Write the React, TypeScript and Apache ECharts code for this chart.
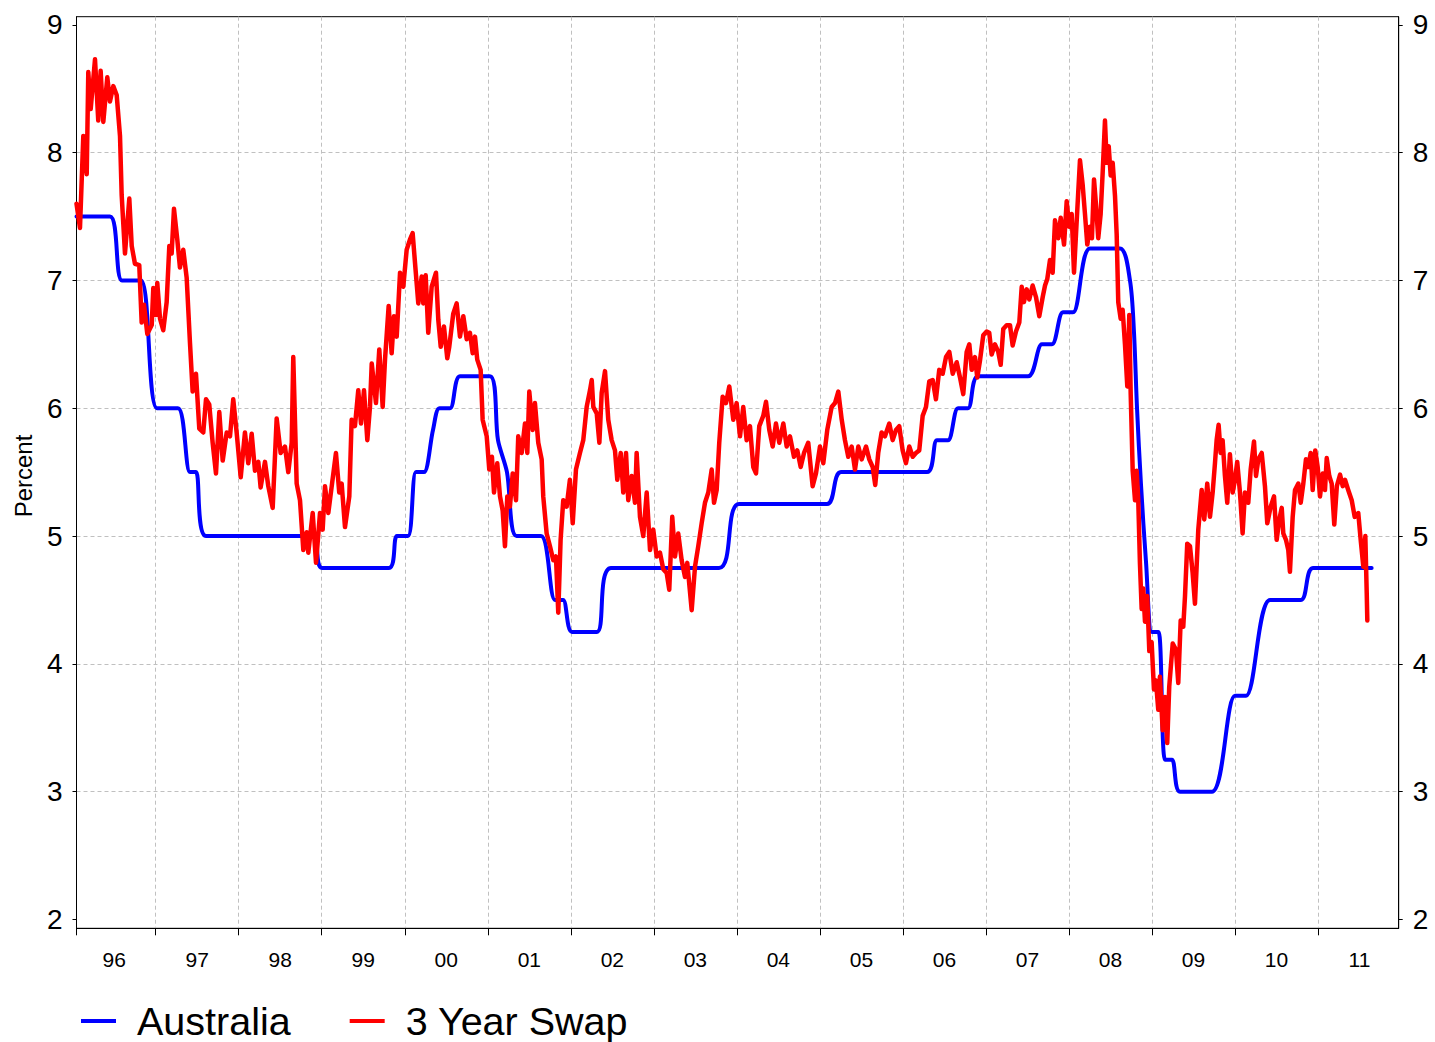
import React, { useEffect, useRef } from "react";
import * as echarts from "echarts";

const FONT = '"Liberation Sans", Arial, Helvetica, sans-serif';

// Tick positions
const yearStarts = [1997, 1998, 1999, 2000, 2001, 2002, 2003, 2004, 2005, 2006, 2007, 2008, 2009, 2010, 2011];
const yearLabelYears = [1996, 1997, 1998, 1999, 2000, 2001, 2002, 2003, 2004, 2005, 2006, 2007, 2008, 2009, 2010, 2011];
const percentTicks = [2, 3, 4, 5, 6, 7, 8, 9];
const percentGridLines = [3, 4, 5, 6, 7, 8];
const xStart = 1996.046;
const xEnd = 2011.972;
const yMin = 1.931;
const yMax = 9.063;

// Australia cash rate (percent), [year, value]
const cashRate: [number, number][] = [
  [1996.046, 7.5], [1996.449, 7.5], [1996.594, 7.0], [1996.823, 7.0], [1997.015, 6.0],
  [1997.268, 6.0], [1997.413, 5.5], [1997.485, 5.5], [1997.606, 5.0], [1998.882, 5.0],
  [1999.003, 4.75], [1999.81, 4.75], [1999.906, 5.0], [2000.039, 5.0], [2000.135, 5.5],
  [2000.231, 5.5], [2000.34, 5.83], [2000.418, 6.0], [2000.545, 6.0], [2000.665, 6.25],
  [2001.026, 6.25], [2001.123, 5.75], [2001.231, 5.5], [2001.346, 5.0], [2001.641, 5.0],
  [2001.809, 4.5], [2001.906, 4.5], [2002.014, 4.25], [2002.315, 4.25], [2002.484, 4.75],
  [2003.785, 4.75], [2004.026, 5.25], [2005.086, 5.25], [2005.254, 5.5], [2006.29, 5.5],
  [2006.411, 5.75], [2006.543, 5.75], [2006.664, 6.0], [2006.784, 6.0], [2006.905, 6.25],
  [2007.507, 6.25], [2007.675, 6.5], [2007.796, 6.5], [2007.928, 6.75], [2008.049, 6.75],
  [2008.253, 7.25], [2008.615, 7.25], [2008.735, 7.0], [2008.783, 6.6], [2008.82, 6.0],
  [2008.868, 5.4], [2008.928, 4.8], [2009.0, 4.25], [2009.079, 4.25], [2009.157, 3.25],
  [2009.241, 3.25], [2009.337, 3.0], [2009.723, 3.0], [2010.0, 3.75], [2010.133, 3.75],
  [2010.422, 4.5], [2010.795, 4.5], [2010.939, 4.75], [2011.646, 4.75],
];

// 3 year swap rate (percent), [year, value]
const swapRate: [number, number][] = [
  [1996.046, 7.6], [1996.088, 7.41], [1996.128, 8.13], [1996.169, 7.83], [1996.188, 8.63],
  [1996.217, 8.34], [1996.269, 8.73], [1996.308, 8.25], [1996.337, 8.64], [1996.369, 8.24],
  [1996.417, 8.59], [1996.449, 8.4], [1996.489, 8.52], [1996.53, 8.45], [1996.57, 8.13],
  [1996.59, 7.67], [1996.63, 7.21], [1996.682, 7.64], [1996.711, 7.27], [1996.75, 7.13],
  [1996.802, 7.12], [1996.831, 6.67], [1996.859, 6.81], [1996.899, 6.58], [1996.952, 6.65],
  [1996.971, 6.94], [1997.003, 6.73], [1997.019, 6.98], [1997.052, 6.7], [1997.091, 6.61],
  [1997.132, 6.83], [1997.164, 7.27], [1997.192, 7.21], [1997.22, 7.56], [1997.26, 7.32],
  [1997.292, 7.1], [1997.332, 7.24], [1997.373, 7.02], [1997.413, 6.51], [1997.445, 6.13],
  [1997.485, 6.27], [1997.525, 5.84], [1997.573, 5.81], [1997.606, 6.07], [1997.645, 6.03],
  [1997.686, 5.73], [1997.726, 5.49], [1997.766, 5.97], [1997.807, 5.59], [1997.855, 5.81],
  [1997.895, 5.78], [1997.934, 6.07], [1997.975, 5.81], [1998.024, 5.46], [1998.075, 5.81],
  [1998.115, 5.57], [1998.156, 5.8], [1998.196, 5.51], [1998.236, 5.58], [1998.264, 5.38],
  [1998.316, 5.58], [1998.356, 5.39], [1998.409, 5.22], [1998.457, 5.92], [1998.505, 5.65],
  [1998.557, 5.7], [1998.597, 5.5], [1998.638, 5.73], [1998.657, 6.4], [1998.698, 5.41],
  [1998.738, 5.28], [1998.778, 4.89], [1998.819, 5.03], [1998.838, 4.87], [1998.891, 5.18],
  [1998.931, 4.79], [1998.979, 5.18], [1999.011, 5.05], [1999.039, 5.39], [1999.079, 5.18],
  [1999.12, 5.39], [1999.171, 5.65], [1999.211, 5.34], [1999.24, 5.41], [1999.28, 5.07],
  [1999.332, 5.31], [1999.36, 5.91], [1999.4, 5.86], [1999.44, 6.14], [1999.473, 5.88],
  [1999.509, 6.14], [1999.549, 5.75], [1999.581, 6.01], [1999.602, 6.35], [1999.653, 6.04],
  [1999.693, 6.46], [1999.734, 6.01], [1999.762, 6.38], [1999.806, 6.8], [1999.842, 6.43],
  [1999.87, 6.72], [1999.903, 6.56], [1999.943, 7.06], [1999.982, 6.95], [2000.023, 7.24],
  [2000.063, 7.32], [2000.095, 7.37], [2000.123, 7.14], [2000.163, 6.82], [2000.204, 7.03],
  [2000.223, 6.82], [2000.252, 7.04], [2000.283, 6.59], [2000.324, 6.95], [2000.376, 7.06],
  [2000.404, 6.69], [2000.433, 6.48], [2000.472, 6.64], [2000.512, 6.39], [2000.536, 6.48],
  [2000.584, 6.74], [2000.625, 6.82], [2000.665, 6.56], [2000.705, 6.72], [2000.746, 6.54],
  [2000.785, 6.59], [2000.818, 6.43], [2000.846, 6.56], [2000.873, 6.38], [2000.914, 6.3],
  [2000.938, 5.91], [2000.987, 5.78], [2001.018, 5.52], [2001.05, 5.62], [2001.075, 5.34],
  [2001.114, 5.57], [2001.147, 5.31], [2001.179, 5.2], [2001.207, 4.92], [2001.235, 5.31],
  [2001.267, 5.23], [2001.3, 5.49], [2001.34, 5.28], [2001.367, 5.78], [2001.408, 5.65],
  [2001.448, 5.88], [2001.476, 5.65], [2001.5, 6.13], [2001.541, 5.83], [2001.568, 6.04],
  [2001.608, 5.73], [2001.649, 5.6], [2001.668, 5.31], [2001.709, 5.02], [2001.749, 4.92],
  [2001.789, 4.81], [2001.821, 4.84], [2001.849, 4.4], [2001.877, 4.97], [2001.909, 5.28],
  [2001.95, 5.23], [2001.989, 5.44], [2002.023, 5.1], [2002.062, 5.52], [2002.11, 5.65],
  [2002.15, 5.75], [2002.191, 6.01], [2002.231, 6.14], [2002.252, 6.22], [2002.271, 6.01],
  [2002.312, 5.96], [2002.344, 5.73], [2002.372, 6.12], [2002.412, 6.29], [2002.451, 5.91],
  [2002.492, 5.75], [2002.532, 5.67], [2002.56, 5.44], [2002.601, 5.65], [2002.632, 5.34],
  [2002.665, 5.65], [2002.692, 5.28], [2002.733, 5.47], [2002.773, 5.26], [2002.793, 5.65],
  [2002.833, 5.15], [2002.873, 5.0], [2002.914, 5.34], [2002.954, 4.89], [2002.993, 5.05],
  [2003.034, 4.84], [2003.074, 4.87], [2003.114, 4.74], [2003.155, 4.71], [2003.186, 4.58],
  [2003.222, 5.15], [2003.255, 4.84], [2003.294, 5.02], [2003.335, 4.81], [2003.375, 4.68],
  [2003.403, 4.79], [2003.456, 4.42], [2003.496, 4.76], [2003.535, 4.92], [2003.576, 5.1],
  [2003.616, 5.26], [2003.656, 5.34], [2003.697, 5.52], [2003.725, 5.26], [2003.757, 5.36],
  [2003.788, 5.73], [2003.829, 6.09], [2003.869, 6.04], [2003.909, 6.17], [2003.957, 5.91],
  [2003.997, 6.04], [2004.038, 5.78], [2004.077, 6.01], [2004.118, 5.75], [2004.158, 5.86],
  [2004.198, 5.54], [2004.231, 5.49], [2004.27, 5.86], [2004.318, 5.94], [2004.351, 6.05],
  [2004.391, 5.83], [2004.432, 5.7], [2004.471, 5.88], [2004.511, 5.73], [2004.56, 5.88],
  [2004.6, 5.7], [2004.64, 5.78], [2004.688, 5.62], [2004.728, 5.67], [2004.769, 5.54],
  [2004.809, 5.65], [2004.86, 5.73], [2004.913, 5.39], [2004.953, 5.49], [2005.001, 5.7],
  [2005.041, 5.57], [2005.089, 5.83], [2005.142, 6.01], [2005.182, 6.04], [2005.222, 6.13],
  [2005.263, 5.91], [2005.302, 5.75], [2005.342, 5.62], [2005.383, 5.7], [2005.423, 5.52],
  [2005.463, 5.7], [2005.504, 5.6], [2005.556, 5.7], [2005.595, 5.6], [2005.636, 5.54],
  [2005.667, 5.4], [2005.703, 5.65], [2005.744, 5.81], [2005.784, 5.78], [2005.836, 5.88],
  [2005.877, 5.75], [2005.917, 5.83], [2005.956, 5.86], [2005.997, 5.67], [2006.037, 5.57],
  [2006.077, 5.7], [2006.118, 5.62], [2006.157, 5.65], [2006.197, 5.67], [2006.238, 5.94],
  [2006.278, 6.01], [2006.318, 6.21], [2006.359, 6.22], [2006.398, 6.07], [2006.438, 6.3],
  [2006.479, 6.27], [2006.519, 6.4], [2006.559, 6.44], [2006.6, 6.27], [2006.648, 6.36],
  [2006.688, 6.24], [2006.727, 6.11], [2006.768, 6.44], [2006.8, 6.5], [2006.829, 6.3],
  [2006.868, 6.4], [2006.896, 6.24], [2006.928, 6.37], [2006.968, 6.57], [2007.009, 6.6],
  [2007.04, 6.59], [2007.069, 6.42], [2007.109, 6.5], [2007.149, 6.44], [2007.178, 6.34],
  [2007.209, 6.62], [2007.25, 6.65], [2007.29, 6.65], [2007.322, 6.49], [2007.362, 6.6],
  [2007.402, 6.67], [2007.431, 6.95], [2007.458, 6.83], [2007.491, 6.93], [2007.522, 6.85],
  [2007.563, 6.96], [2007.603, 6.87], [2007.643, 6.72], [2007.684, 6.87], [2007.712, 6.96],
  [2007.739, 7.01], [2007.772, 7.16], [2007.804, 7.06], [2007.832, 7.47], [2007.872, 7.33],
  [2007.901, 7.49], [2007.941, 7.28], [2007.973, 7.62], [2008.004, 7.42], [2008.033, 7.52],
  [2008.061, 7.06], [2008.085, 7.36], [2008.112, 7.69], [2008.133, 7.94], [2008.165, 7.75],
  [2008.193, 7.52], [2008.221, 7.28], [2008.253, 7.42], [2008.277, 7.33], [2008.302, 7.79],
  [2008.326, 7.59], [2008.353, 7.33], [2008.382, 7.52], [2008.406, 7.84], [2008.434, 8.25],
  [2008.455, 7.92], [2008.479, 8.05], [2008.503, 7.82], [2008.527, 7.92], [2008.555, 7.66],
  [2008.575, 7.36], [2008.594, 6.83], [2008.623, 6.7], [2008.647, 6.77], [2008.675, 6.5],
  [2008.703, 6.17], [2008.727, 6.73], [2008.744, 6.11], [2008.768, 5.51], [2008.796, 5.28],
  [2008.816, 5.51], [2008.835, 5.28], [2008.855, 4.79], [2008.876, 4.43], [2008.895, 4.59],
  [2008.916, 4.33], [2008.943, 4.53], [2008.968, 4.1], [2008.996, 4.17], [2009.024, 3.8],
  [2009.048, 3.87], [2009.076, 3.64], [2009.096, 3.9], [2009.129, 3.48], [2009.156, 3.74],
  [2009.184, 3.38], [2009.208, 3.82], [2009.25, 4.16], [2009.289, 4.11], [2009.317, 3.85],
  [2009.346, 4.34], [2009.377, 4.29], [2009.398, 4.53], [2009.425, 4.94], [2009.458, 4.92],
  [2009.49, 4.71], [2009.518, 4.47], [2009.558, 5.05], [2009.599, 5.36], [2009.63, 5.13],
  [2009.666, 5.41], [2009.699, 5.15], [2009.731, 5.34], [2009.759, 5.57], [2009.779, 5.75],
  [2009.803, 5.87], [2009.827, 5.65], [2009.851, 5.75], [2009.879, 5.47], [2009.907, 5.26],
  [2009.939, 5.64], [2009.972, 5.34], [2010.0, 5.44], [2010.027, 5.58], [2010.06, 5.34],
  [2010.092, 5.02], [2010.12, 5.34], [2010.16, 5.26], [2010.189, 5.52], [2010.229, 5.74],
  [2010.253, 5.47], [2010.281, 5.6], [2010.322, 5.65], [2010.361, 5.39], [2010.389, 5.1],
  [2010.43, 5.23], [2010.47, 5.31], [2010.502, 4.97], [2010.534, 5.13], [2010.563, 5.22],
  [2010.582, 5.02], [2010.614, 4.97], [2010.642, 4.89], [2010.662, 4.72], [2010.695, 5.15],
  [2010.723, 5.36], [2010.763, 5.41], [2010.792, 5.26], [2010.823, 5.41], [2010.855, 5.6],
  [2010.883, 5.54], [2010.912, 5.65], [2010.936, 5.36], [2010.967, 5.67], [2010.996, 5.54],
  [2011.024, 5.31], [2011.057, 5.49], [2011.084, 5.36], [2011.105, 5.61], [2011.136, 5.47],
  [2011.165, 5.41], [2011.196, 5.09], [2011.227, 5.39], [2011.266, 5.48], [2011.298, 5.39],
  [2011.325, 5.44], [2011.364, 5.36], [2011.406, 5.28], [2011.442, 5.15], [2011.485, 5.18],
  [2011.514, 4.97], [2011.546, 4.76], [2011.57, 5.0], [2011.587, 4.55], [2011.594, 4.34],
];

const gridLineStyle = { color: "#c0c0c0", width: 1, type: [4, 3] as number[] };

export default function App() {
  const ref = useRef<HTMLDivElement>(null);

  useEffect(() => {
    if (!ref.current) return;
    const chart = echarts.init(ref.current, null, { renderer: "svg" });
    const yCommon = {
      type: "value",
      min: yMin,
      max: yMax,
      axisLine: { show: true, lineStyle: { color: "#000", width: 1 } },
      axisTick: { show: true, length: 4, customValues: percentTicks, lineStyle: { color: "#000" } },
      axisLabel: {
        show: true,
        customValues: percentTicks,
        margin: 14,
        fontSize: 28,
        fontFamily: FONT,
        color: "#000",
        formatter: (v: number) => String(Math.round(v)),
      },
      splitLine: { show: false },
    };
    chart.setOption({
      animation: false,
      backgroundColor: "#fff",
      grid: {
        left: 76.5,
        top: 16.7,
        width: 1322.2,
        height: 911.6,
        show: true,
        borderColor: "#000",
        borderWidth: 1,
        backgroundColor: "transparent",
      },
      legend: {
        data: ["Australia", "3 Year Swap"],
        left: 76,
        top: 996,
        icon: "rect",
        itemWidth: 35,
        itemHeight: 4,
        itemGap: 59,
        textStyle: { fontSize: 39.5, fontFamily: FONT, color: "#000", padding: [0, 0, 0, 16] },
      },
      xAxis: {
        type: "value",
        min: xStart,
        max: xEnd,
        axisLine: { show: true, lineStyle: { color: "#000", width: 1 } },
        axisTick: { show: true, length: 7, customValues: [xStart, ...yearStarts], lineStyle: { color: "#000" } },
        axisLabel: {
          customValues: yearLabelYears.map((y) => y + 0.5),
          formatter: (v: number) => String(Math.floor(v)).slice(2),
          margin: 21,
          fontSize: 21,
          fontFamily: FONT,
          color: "#000",
        },
        splitLine: { show: true, showMinLine: false, lineStyle: gridLineStyle },
      },
      yAxis: [
        { ...yCommon, position: "left" },
        { ...yCommon, position: "right" },
        {
          type: "value",
          min: yMin,
          max: yMax,
          position: "left",
          axisLine: { show: false },
          axisTick: { show: false, customValues: percentGridLines },
          axisLabel: { show: false, customValues: percentGridLines },
          splitLine: { show: true, lineStyle: gridLineStyle },
        },
      ],
      graphic: [
        {
          type: "text",
          x: 23,
          y: 476,
          rotation: Math.PI / 2,
          style: {
            text: "Percent",
            font: `24px ${FONT}`,
            fill: "#000",
            align: "center",
            verticalAlign: "middle",
          },
        },
      ],
      series: [
        {
          name: "Australia",
          type: "line",
          data: cashRate,
          yAxisIndex: 0,
          showSymbol: false,
          smooth: 0.3,
          color: "#0000ff",
          lineStyle: { color: "#0000ff", width: 4, join: "round", cap: "round" },
          z: 3,
        },
        {
          name: "3 Year Swap",
          type: "line",
          data: swapRate,
          yAxisIndex: 0,
          showSymbol: false,
          color: "#ff0000",
          lineStyle: { color: "#ff0000", width: 4.5, join: "round", cap: "round" },
          z: 4,
        },
      ],
    });
    return () => chart.dispose();
  }, []);

  return (
    <div
      ref={ref}
      style={{ position: "fixed", left: 0, top: 0, width: 1435, height: 1042, background: "#fff" }}
    />
  );
}
